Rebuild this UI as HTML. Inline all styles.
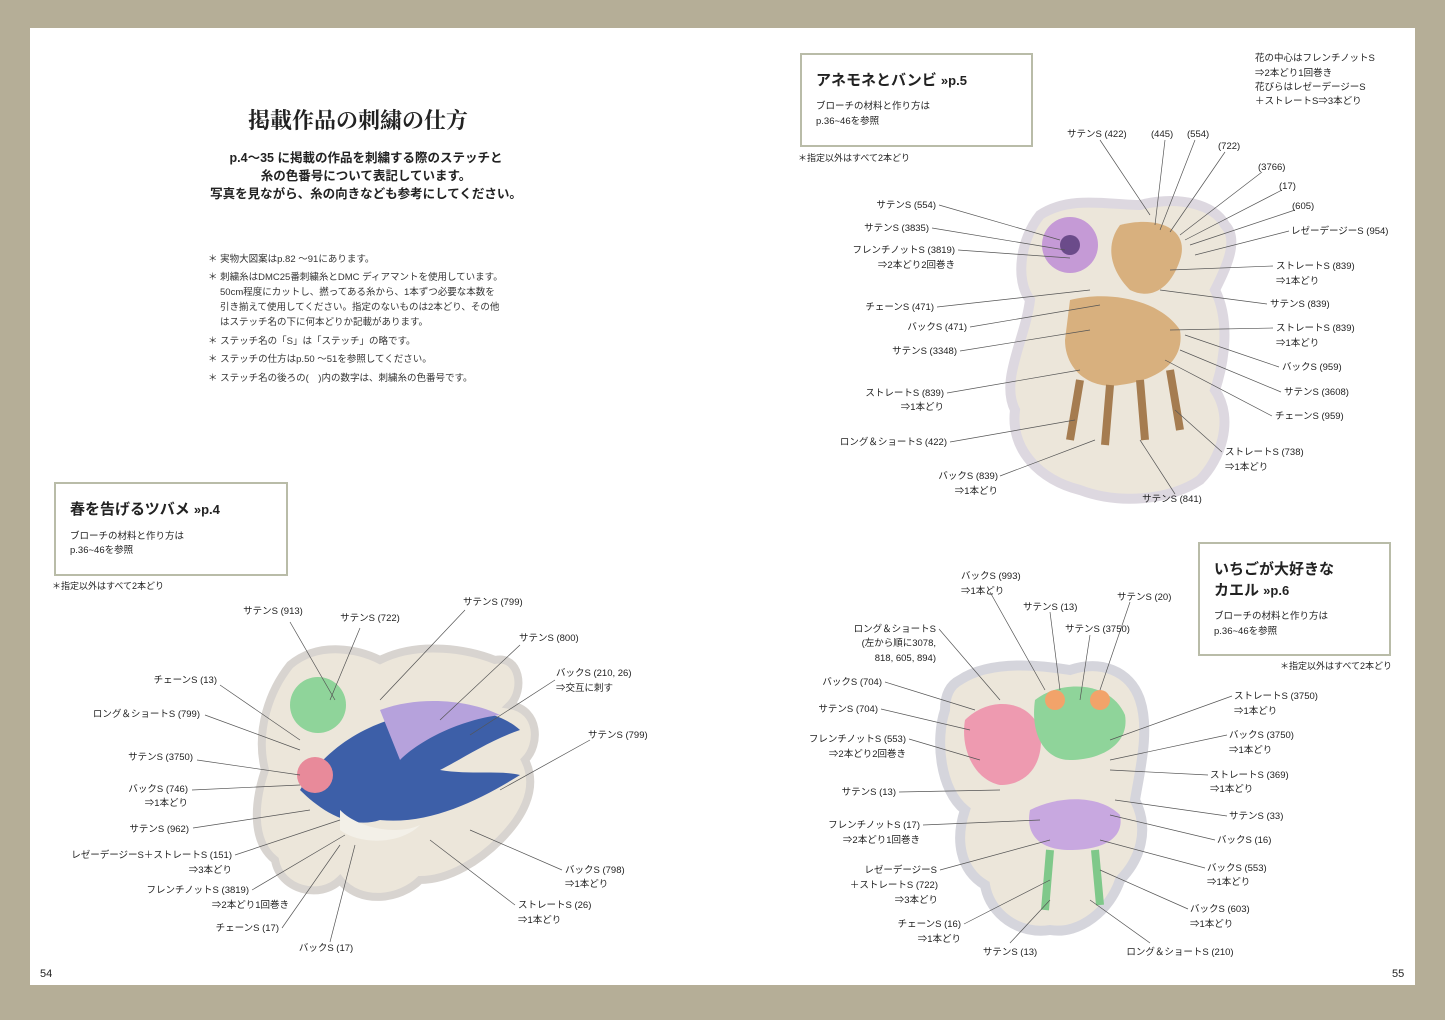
<!DOCTYPE html>
<html><head><meta charset="utf-8"><style>
html,body{margin:0;padding:0;}
body{width:1445px;height:1020px;background:#b5ae97;position:relative;overflow:hidden;font-family:"Liberation Sans","Noto Sans CJK JP",sans-serif;}
.page{position:absolute;left:30px;top:28px;width:1385px;height:957px;background:#fff;}
svg{position:absolute;left:0;top:0;}
</style></head><body>
<div class="page"></div>
<svg width="1445" height="1020" viewBox="0 0 1445 1020" font-family="Liberation Sans, Noto Sans CJK JP, sans-serif">
<!-- left header -->
<text x="358" y="128" font-size="22" font-family="Noto Serif CJK SC, serif" text-anchor="middle" font-weight="bold" fill="#222">掲載作品の刺繍の仕方</text>
<g font-size="12.5" fill="#222" text-anchor="middle" font-weight="bold">
<text x="366" y="162">p.4～35 に掲載の作品を刺繍する際のステッチと</text>
<text x="366" y="180">糸の色番号について表記しています。</text>
<text x="366" y="198">写真を見ながら、糸の向きなども参考にしてください。</text>
</g>
<g font-size="9.5" fill="#333">
<text x="208" y="262">＊ 実物大図案はp.82 ～91にあります。</text>
<text x="208" y="280">＊ 刺繍糸はDMC25番刺繍糸とDMC ディアマントを使用しています。</text>
<text x="220" y="295">50cm程度にカットし、撚ってある糸から、1本ずつ必要な本数を</text>
<text x="220" y="310">引き揃えて使用してください。指定のないものは2本どり、その他</text>
<text x="220" y="325">はステッチ名の下に何本どりか記載があります。</text>
<text x="208" y="344">＊ ステッチ名の「S」は「ステッチ」の略です。</text>
<text x="208" y="362">＊ ステッチの仕方はp.50 ～51を参照してください。</text>
<text x="208" y="381">＊ ステッチ名の後ろの(　)内の数字は、刺繍糸の色番号です。</text>
</g>
<!-- boxes -->
<g fill="none" stroke="#b9bca8" stroke-width="2">
<rect x="55" y="483" width="232" height="92"/>
<rect x="801" y="54" width="231" height="92"/>
<rect x="1199" y="543" width="191" height="112"/>
</g>
<g fill="#222">
<text x="70" y="514" font-size="15" font-weight="bold">春を告げるツバメ <tspan font-size="13">»p.4</tspan></text>
<text x="70" y="539" font-size="9.5">ブローチの材料と作り方は</text>
<text x="70" y="553" font-size="9.5">p.36~46を参照</text>
<text x="52" y="589" font-size="9">＊指定以外はすべて2本どり</text>
<text x="816" y="85" font-size="15" font-weight="bold">アネモネとバンビ <tspan font-size="13">»p.5</tspan></text>
<text x="816" y="109" font-size="9.5">ブローチの材料と作り方は</text>
<text x="816" y="124" font-size="9.5">p.36~46を参照</text>
<text x="798" y="161" font-size="9">＊指定以外はすべて2本どり</text>
<text x="1214" y="574" font-size="15" font-weight="bold">いちごが大好きな</text>
<text x="1214" y="595" font-size="15" font-weight="bold">カエル <tspan font-size="13">»p.6</tspan></text>
<text x="1214" y="619" font-size="9.5">ブローチの材料と作り方は</text>
<text x="1214" y="634" font-size="9.5">p.36~46を参照</text>
<text x="1280" y="669" font-size="9">＊指定以外はすべて2本どり</text>
<text x="40" y="977" font-size="11">54</text>
<text x="1392" y="977" font-size="11">55</text>
</g>
<!-- swallow blob -->
<path d="M290,665 C320,640 360,650 380,660 C420,640 470,650 495,660 C520,655 525,690 510,705 C540,710 540,745 525,760 C540,790 520,820 500,840 C480,860 450,880 420,880 C400,900 360,905 340,880 C320,900 280,890 275,860 C250,840 255,800 265,770 C255,730 270,690 290,665Z" fill="#ece6da" stroke="#d8d4d0" stroke-width="8"/>
<circle cx="318" cy="705" r="28" fill="#8fd49a"/>
<path d="M300,790 C330,740 380,715 440,710 C480,705 510,720 520,730 C490,740 460,760 440,770 C470,775 500,770 520,775 C480,800 430,825 380,820 C350,830 320,810 300,790Z" fill="#3d5fa8"/>
<path d="M380,710 C420,695 470,700 500,715 C460,720 420,740 400,760Z" fill="#b6a2dc"/>
<circle cx="315" cy="775" r="18" fill="#e88a9a"/>
<path d="M340,810 C360,830 400,835 420,825 C400,845 360,845 340,830Z" fill="#f3f0e8"/>
<!-- deer blob -->
<path d="M1040,215 C1070,195 1110,205 1140,205 C1180,195 1215,205 1225,225 C1240,240 1225,270 1215,290 C1230,320 1225,360 1215,390 C1235,420 1220,460 1200,480 C1170,500 1120,505 1080,490 C1040,480 1010,450 1015,410 C1000,380 1025,340 1030,300 C1015,280 1020,240 1040,215Z" fill="#ece6da" stroke="#ddd8e0" stroke-width="10"/>
<circle cx="1070" cy="245" r="28" fill="#c59ad6"/>
<circle cx="1070" cy="245" r="10" fill="#6b4b8a"/>
<path d="M1120,225 C1160,215 1190,230 1180,260 C1170,290 1150,300 1130,290 C1110,270 1105,245 1120,225Z" fill="#d8b07e"/>
<path d="M1070,300 C1110,290 1160,300 1180,330 C1185,360 1160,380 1120,385 C1090,390 1065,370 1065,340Z" fill="#d8b07e"/>
<path d="M1080,380 L1070,440 M1110,385 L1105,445 M1140,380 L1145,440 M1170,370 L1180,430" stroke="#a57c50" stroke-width="8"/>
<!-- frog blob -->
<path d="M960,680 C990,660 1040,665 1070,670 C1100,660 1130,670 1140,700 C1150,730 1140,770 1135,800 C1150,830 1140,860 1120,880 C1110,910 1080,935 1050,930 C1020,935 990,915 985,885 C960,870 955,840 965,810 C940,790 935,740 945,710 C945,695 950,685 960,680Z" fill="#ece6da" stroke="#d5d5dc" stroke-width="10"/>
<path d="M965,720 C990,695 1030,700 1040,730 C1045,760 1030,785 1000,785 C975,780 960,750 965,720Z" fill="#ee9ab0"/>
<path d="M1035,700 C1060,680 1110,680 1125,715 C1130,745 1100,760 1070,760 C1045,760 1030,735 1035,700Z" fill="#8fd49a"/>
<circle cx="1055" cy="700" r="10" fill="#f2a36a"/><circle cx="1100" cy="700" r="10" fill="#f2a36a"/>
<path d="M1030,810 C1060,795 1100,795 1120,815 C1125,840 1100,850 1070,850 C1040,850 1025,835 1030,810Z" fill="#c8a8e0"/>
<path d="M1050,850 L1045,910 M1095,850 L1100,905" stroke="#7fc88a" stroke-width="8"/>
<!-- leader lines -->
<g stroke="#555" stroke-width="0.7" fill="none">
<path d="M290,622 L335,700 M360,628 L330,700 M465,610 L380,700 M520,645 L440,720 M555,680 L470,735 M590,740 L500,790 M220,685 L300,740 M205,715 L300,750 M197,760 L300,775 M192,790 L300,785 M193,828 L310,810 M235,855 L340,820 M252,890 L345,835 M282,928 L340,845 M330,942 L355,845 M562,870 L470,830 M515,905 L430,840"/>
<path d="M1100,140 L1150,215 M1165,140 L1155,225 M1195,140 L1160,230 M1225,152 L1170,232 M1262,172 L1180,235 M1282,190 L1185,240 M1295,210 L1190,245 M1289,231 L1195,255 M939,205 L1060,240 M932,228 L1065,250 M958,250 L1070,258 M937,307 L1090,290 M970,327 L1100,305 M960,351 L1090,330 M947,393 L1080,370 M950,442 L1075,420 M1000,476 L1095,440 M1273,266 L1170,270 M1267,304 L1160,290 M1273,328 L1170,330 M1279,367 L1185,335 M1281,392 L1180,350 M1272,416 L1165,360 M1222,452 L1175,410 M1175,494 L1140,440"/>
<path d="M939,629 L1000,700 M885,682 L975,710 M881,709 L970,730 M909,739 L980,760 M899,792 L1000,790 M923,825 L1040,820 M940,870 L1050,840 M964,924 L1050,880 M1010,943 L1050,900 M1150,943 L1090,900 M990,592 L1045,690 M1050,612 L1060,690 M1130,602 L1100,690 M1090,635 L1080,700 M1232,696 L1110,740 M1227,735 L1110,760 M1208,775 L1110,770 M1227,816 L1115,800 M1215,840 L1110,815 M1205,868 L1100,840 M1188,909 L1100,870"/>
</g>
<!-- labels -->
<g font-size="9.5" fill="#222">
<g text-anchor="middle">
<text x="273" y="614">サテンS (913)</text><text x="370" y="621">サテンS (722)</text>
<text x="1010" y="955">サテンS (13)</text><text x="1180" y="955">ロング＆ショートS (210)</text>
<text x="326" y="951">バックS (17)</text><text x="1172" y="502">サテンS (841)</text>
</g>
<text x="463" y="605">サテンS (799)</text><text x="519" y="641">サテンS (800)</text>
<text x="556" y="676">バックS (210, 26)</text><text x="556" y="691">⇒交互に刺す</text>
<text x="588" y="738">サテンS (799)</text>
<text x="565" y="873">バックS (798)</text><text x="565" y="887">⇒1本どり</text>
<text x="518" y="908">ストレートS (26)</text><text x="518" y="923">⇒1本どり</text>
<g text-anchor="end">
<text x="217" y="683">チェーンS (13)</text><text x="200" y="717">ロング＆ショートS (799)</text>
<text x="193" y="760">サテンS (3750)</text><text x="188" y="792">バックS (746)</text><text x="188" y="806">⇒1本どり</text>
<text x="189" y="832">サテンS (962)</text><text x="232" y="858">レゼーデージーS＋ストレートS (151)</text><text x="232" y="873">⇒3本どり</text>
<text x="249" y="893">フレンチノットS (3819)</text><text x="289" y="908">⇒2本どり1回巻き</text>
<text x="279" y="931">チェーンS (17)</text>
<text x="936" y="208">サテンS (554)</text><text x="929" y="231">サテンS (3835)</text>
<text x="955" y="253">フレンチノットS (3819)</text><text x="955" y="268">⇒2本どり2回巻き</text>
<text x="934" y="310">チェーンS (471)</text><text x="967" y="330">バックS (471)</text><text x="957" y="354">サテンS (3348)</text>
<text x="944" y="396">ストレートS (839)</text><text x="944" y="410">⇒1本どり</text>
<text x="947" y="445">ロング＆ショートS (422)</text>
<text x="998" y="479">バックS (839)</text><text x="998" y="494">⇒1本どり</text>
<text x="936" y="632">ロング＆ショートS</text><text x="936" y="646">(左から順に3078,</text><text x="936" y="661">818, 605, 894)</text>
<text x="882" y="685">バックS (704)</text><text x="878" y="712">サテンS (704)</text>
<text x="906" y="742">フレンチノットS (553)</text><text x="906" y="757">⇒2本どり2回巻き</text>
<text x="896" y="795">サテンS (13)</text>
<text x="920" y="828">フレンチノットS (17)</text><text x="920" y="843">⇒2本どり1回巻き</text>
<text x="937" y="873">レゼーデージーS</text><text x="938" y="888">＋ストレートS (722)</text><text x="938" y="903">⇒3本どり</text>
<text x="961" y="927">チェーンS (16)</text><text x="961" y="942">⇒1本どり</text>
</g>
<text x="1067" y="137">サテンS (422)</text><text x="1151" y="137">(445)</text><text x="1187" y="137">(554)</text>
<text x="1218" y="149">(722)</text><text x="1258" y="170">(3766)</text><text x="1279" y="189">(17)</text><text x="1292" y="209">(605)</text>
<text x="1291" y="234">レゼーデージーS (954)</text>
<text x="1255" y="61">花の中心はフレンチノットS</text><text x="1255" y="76">⇒2本どり1回巻き</text>
<text x="1255" y="90">花びらはレゼーデージーS</text><text x="1255" y="104">＋ストレートS⇒3本どり</text>
<text x="1276" y="269">ストレートS (839)</text><text x="1276" y="284">⇒1本どり</text>
<text x="1270" y="307">サテンS (839)</text>
<text x="1276" y="331">ストレートS (839)</text><text x="1276" y="346">⇒1本どり</text>
<text x="1282" y="370">バックS (959)</text><text x="1284" y="395">サテンS (3608)</text><text x="1275" y="419">チェーンS (959)</text>
<text x="1225" y="455">ストレートS (738)</text><text x="1225" y="470">⇒1本どり</text>
<text x="961" y="579">バックS (993)</text><text x="961" y="594">⇒1本どり</text>
<text x="1023" y="610">サテンS (13)</text><text x="1117" y="600">サテンS (20)</text><text x="1065" y="632">サテンS (3750)</text>
<text x="1234" y="699">ストレートS (3750)</text><text x="1234" y="714">⇒1本どり</text>
<text x="1229" y="738">バックS (3750)</text><text x="1229" y="753">⇒1本どり</text>
<text x="1210" y="778">ストレートS (369)</text><text x="1210" y="792">⇒1本どり</text>
<text x="1229" y="819">サテンS (33)</text><text x="1217" y="843">バックS (16)</text>
<text x="1207" y="871">バックS (553)</text><text x="1207" y="885">⇒1本どり</text>
<text x="1190" y="912">バックS (603)</text><text x="1190" y="927">⇒1本どり</text>
</g>
</svg>
</body></html>
